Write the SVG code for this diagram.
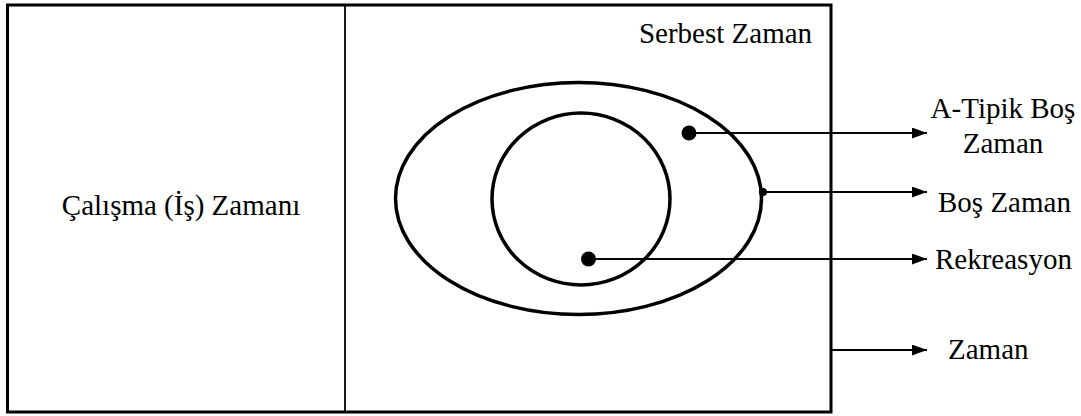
<svg xmlns="http://www.w3.org/2000/svg" width="1081" height="416" viewBox="0 0 1081 416">
<style>
text{font-family:'Liberation Serif','Times New Roman','DejaVu Serif',serif;font-size:29px;fill:#000}
.shape{fill:none;stroke:#000}
.conn{stroke:#000;stroke-width:1.8;fill:none}
</style>
<defs>
<marker id="arr" viewBox="0 0 15 11" refX="15" refY="5.5" markerWidth="15" markerHeight="11" markerUnits="userSpaceOnUse" orient="auto">
<path d="M0,0 L15,5.5 L0,11 Z" fill="#000"/>
</marker>
</defs>
<rect width="1081" height="416" fill="#fff"/>
<g id="zaman-box">
<rect class="shape" x="7.5" y="5" width="823.5" height="407" stroke-width="3"/>
<line class="shape" x1="345" y1="5" x2="345" y2="412" stroke-width="1.8"/>
</g>
<g id="calisma">
<text font-family="Liberation Serif, serif" x="181" y="215" text-anchor="middle">Çalışma (İş) Zamanı</text>
</g>
<g id="serbest">
<text font-family="Liberation Serif, serif" x="725.5" y="43" text-anchor="middle">Serbest Zaman</text>
</g>
<g id="bos-zaman-ellipse">
<ellipse class="shape" cx="578.5" cy="198.5" rx="183" ry="116" stroke-width="3.5"/>
</g>
<g id="rekreasyon-circle">
<ellipse class="shape" cx="581" cy="199" rx="89" ry="86" stroke-width="3.5"/>
</g>
<g id="connectors">
<circle cx="689" cy="133" r="7.5" fill="#000"/>
<line class="conn" x1="689" y1="133" x2="927" y2="133" marker-end="url(#arr)"/>
<circle cx="763" cy="192" r="4" fill="#000"/>
<line class="conn" x1="763" y1="192" x2="927" y2="192" marker-end="url(#arr)"/>
<circle cx="588.5" cy="259" r="7.5" fill="#000"/>
<line class="conn" x1="588.5" y1="259" x2="927" y2="259" marker-end="url(#arr)"/>
<line class="conn" x1="831" y1="350" x2="927" y2="350" marker-end="url(#arr)"/>
</g>
<g id="label-atipik">
<text font-family="Liberation Serif, serif" x="1003" y="118" text-anchor="middle">A-Tipik Boş</text>
<text font-family="Liberation Serif, serif" x="1003" y="153" text-anchor="middle">Zaman</text>
</g>
<g id="label-bos">
<text font-family="Liberation Serif, serif" x="938" y="212">Boş Zaman</text>
</g>
<g id="label-rekreasyon">
<text font-family="Liberation Serif, serif" x="935" y="269">Rekreasyon</text>
</g>
<g id="label-zaman">
<text font-family="Liberation Serif, serif" x="948" y="359">Zaman</text>
</g>
</svg>
